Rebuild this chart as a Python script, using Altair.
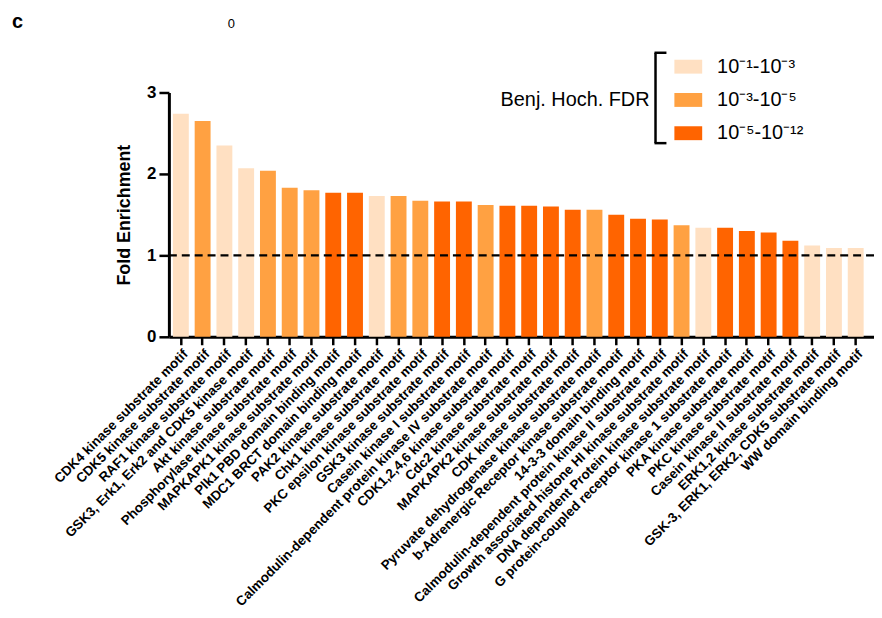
import altair as alt
import pandas as pd

motifs = [
    "CDK4 kinase substrate motif",
    "CDK5 kinase substrate motif",
    "RAF1 kinase substrate motif",
    "GSK3, Erk1, Erk2 and CDK5 kinase motif",
    "Akt kinase substrate motif",
    "Phosphorylase kinase substrate motif",
    "MAPKAPK1 kinase substrate motif",
    "Plk1 PBD domain binding motif",
    "MDC1 BRCT domain binding motif",
    "PAK2 kinase substrate motif",
    "Chk1 kinase substrate motif",
    "PKC epsilon kinase substrate motif",
    "GSK3 kinase substrate motif",
    "Casein kinase I substrate motif",
    "Calmodulin-dependent protein kinase IV substrate motif",
    "CDK1,2,4,6 kinase substrate motif",
    "Cdc2 kinase substrate motif",
    "MAPKAPK2 kinase substrate motif",
    "CDK kinase substrate motif",
    "Pyruvate dehydrogenase kinase substrate motif",
    "b-Adrenergic Receptor kinase substrate motif",
    "14-3-3 domain binding motif",
    "Calmodulin-dependent protein kinase II substrate motif",
    "Growth associated histone HI kinase substrate motif",
    "DNA dependent Protein kinase substrate motif",
    "G protein-coupled receptor kinase 1 substrate motif",
    "PKA kinase substrate motif",
    "PKC kinase substrate motif",
    "Casein kinase II substrate motif",
    "ERK1,2 kinase substrate motif",
    "GSK-3, ERK1, ERK2, CDK5 substrate motif",
    "WW domain binding motif",
]
fold = [2.74, 2.65, 2.35, 2.07, 2.04, 1.83, 1.80, 1.77, 1.77, 1.73, 1.73, 1.67,
        1.66, 1.66, 1.62, 1.61, 1.61, 1.60, 1.56, 1.56, 1.50, 1.45, 1.44, 1.37,
        1.34, 1.34, 1.30, 1.28, 1.18, 1.12, 1.09, 1.09]
fdr_labels = ["10\u207b\u00b9-10\u207b\u00b3", "10\u207b\u00b3-10\u207b\u2075", "10\u207b\u2075-10\u207b\u00b9\u00b2"]
fdr_group = [0, 1, 0, 0, 1, 1, 1, 2, 2, 0, 1, 1, 2, 2, 1, 2, 2, 2, 2, 1, 2, 2, 2, 1,
             0, 2, 2, 2, 2, 0, 0, 0]
colors = ["#FFE0C2", "#FFA142", "#FF6400"]

df = pd.DataFrame({
    "motif": motifs,
    "fold": fold,
    "fdr": [fdr_labels[g] for g in fdr_group],
})

FONT = "Liberation Sans"

bars = alt.Chart(df).mark_bar().encode(
    x=alt.X("motif:N", sort=motifs, title=None,
            scale=alt.Scale(paddingInner=0.27, paddingOuter=0.33, align=0.28),
            axis=alt.Axis(labelAngle=-45, labelFontSize=13.5, labelFontWeight="bold",
                          labelLimit=0, labelColor="black", labelPadding=2,
                          tickSize=8, tickWidth=2.5, tickColor="black",
                          domainWidth=3, domainColor="black", labelFont=FONT)),
    y=alt.Y("fold:Q", title="Fold Enrichment",
            scale=alt.Scale(domain=[0, 3], nice=False),
            axis=alt.Axis(values=[0, 1, 2, 3], format="d", labelFontSize=17,
                          labelFontWeight="bold", labelColor="black", labelFont=FONT,
                          titleFontSize=18, titleFontWeight="bold", titleColor="black",
                          titleFont=FONT, titlePadding=13, tickSize=10, tickWidth=2.5,
                          tickColor="black", domainWidth=3, domainColor="black",
                          labelPadding=3, grid=False)),
    color=alt.Color("fdr:N", sort=fdr_labels,
                    scale=alt.Scale(domain=fdr_labels, range=colors),
                    legend=alt.Legend(orient="none", legendX=509, legendY=-40,
                                      title=None, symbolType="M-1,-0.5H1V0.5H-1Z",
                                      symbolSize=784, symbolStrokeWidth=0,
                                      symbolOpacity=1,
                                      labelFontSize=20, labelFont=FONT, labelColor="black",
                                      labelOffset=15, rowPadding=9.5)),
)

ref = alt.Chart(pd.DataFrame({"v": [1]})).mark_rule(
    color="black", strokeWidth=2.5, strokeDash=[8, 5]
).encode(y="v:Q")

one = pd.DataFrame({"a": [0]})
legend_title = alt.Chart(one).mark_text(
    text="Benj. Hoch. FDR", fontSize=20, font=FONT, align="right", baseline="middle", color="black"
).encode(x=alt.value(484), y=alt.value(8))

br_v = alt.Chart(one).mark_rule(color="black", strokeWidth=2.5).encode(
    x=alt.value(490), y=alt.value(-40), y2=alt.value(51))
br_t = alt.Chart(one).mark_rule(color="black", strokeWidth=2.5).encode(
    x=alt.value(489), x2=alt.value(501), y=alt.value(-40))
br_b = alt.Chart(one).mark_rule(color="black", strokeWidth=2.5).encode(
    x=alt.value(489), x2=alt.value(501), y=alt.value(51))

panel = alt.Chart(one).mark_text(
    text="c", fontSize=20, fontWeight="bold", font=FONT, align="left", baseline="middle", color="black"
).encode(x=alt.value(-158), y=alt.value(-71))
zero = alt.Chart(one).mark_text(
    text="0", fontSize=13, font=FONT, align="center", baseline="middle", color="black"
).encode(x=alt.value(63), y=alt.value(-69))

chart = alt.layer(bars, ref, legend_title, br_v, br_t, br_b, panel, zero).properties(
    width=710, height=246,
    autosize=alt.AutoSizeParams(type="none"),
    padding={"left": 162, "top": 83, "right": 0, "bottom": 272},
).configure_view(stroke=None)

chart.save("out.html", embed_options={"renderer": "svg", "actions": False})
